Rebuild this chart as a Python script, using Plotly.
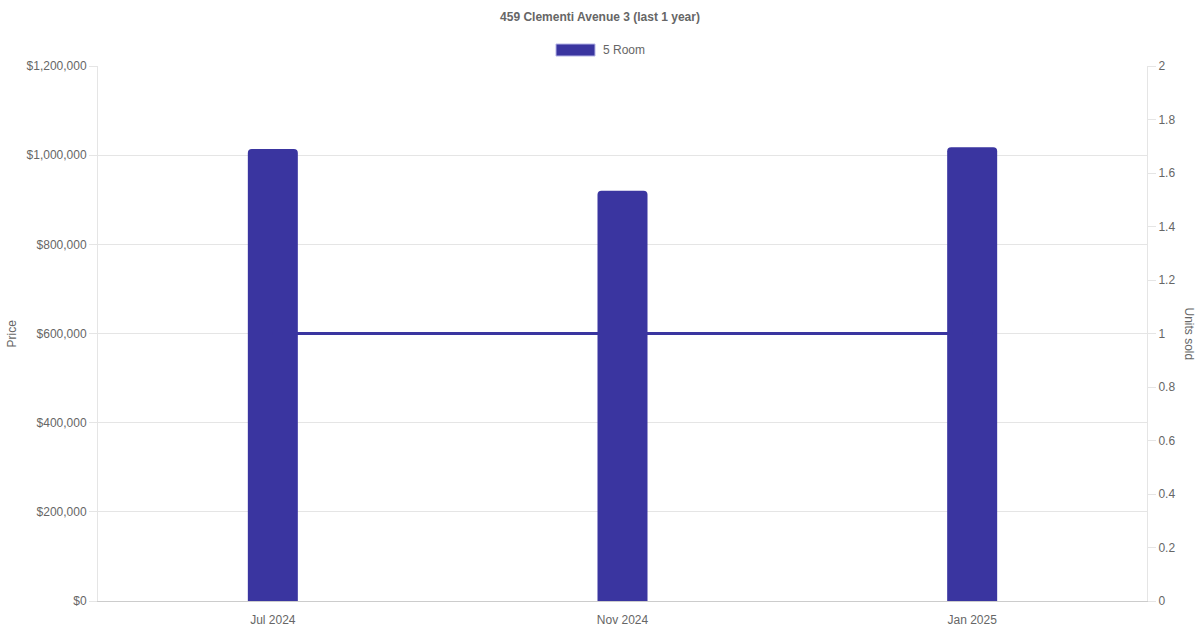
import plotly.graph_objects as go

months = ["Jul 2024", "Nov 2024", "Jan 2025"]
prices = [1014000, 920000, 1018000]
units_sold = [1, 1, 1]
series_name = "5 Room"

color = "#3a35a0"
font = "Liberation Sans, Arial, sans-serif"
grey = "#666666"

fig = go.Figure()
fig.add_trace(go.Bar(x=months, y=prices, name=series_name, marker=dict(color=color, line=dict(width=0)),
                     yaxis="y", showlegend=False))
fig.add_trace(go.Scatter(x=months, y=units_sold, mode="lines", line=dict(color=color, width=3),
                         yaxis="y2", showlegend=False))

fig.update_layout(
    width=1200, height=630,
    margin=dict(l=98, r=53, t=66, b=29),
    paper_bgcolor="white", plot_bgcolor="white",
    font=dict(family=font, size=12, color=grey),
    title=dict(text="<b>459 Clementi Avenue 3 (last 1 year)</b>", x=0.5, xanchor="center",
               y=1 - 17 / 630, yanchor="middle", font=dict(size=12, color=grey, family=font)),
    bargap=0.857,
    barcornerradius=4,
    xaxis=dict(type="category", showgrid=False, showline=True, linecolor="#cccccc", linewidth=1,
               ticks="outside", ticklen=8, tickcolor="rgba(0,0,0,0)", automargin=False,
               tickfont=dict(size=12, color=grey), mirror=False, zeroline=False),
    yaxis=dict(range=[0, 1200000], dtick=200000, tickformat="$,.0f", showgrid=True, automargin=False,
               gridcolor="#e5e5e5", gridwidth=1, ticks="outside", ticklen=8, tickcolor="#e5e5e5",
               showline=True, linecolor="#e5e5e5", zeroline=False, tickfont=dict(size=12, color=grey)),
    yaxis2=dict(range=[0, 2], dtick=0.2, overlaying="y", side="right", showgrid=False, automargin=False,
                ticks="outside", ticklen=8, tickcolor="#e5e5e5", showline=True, linecolor="#e5e5e5",
                zeroline=False, tickfont=dict(size=12, color=grey)),
    shapes=[dict(type="rect", xref="paper", yref="paper",
                 x0=(556 - 98) / 1049, x1=(595 - 98) / 1049,
                 y0=(601 - 56) / 535, y1=(601 - 44) / 535,
                 fillcolor=color, line=dict(color="rgba(180,180,230,1)", width=1))],
    annotations=[
        dict(text=series_name, xref="paper", yref="paper", x=(601 - 98) / 1049, y=(601 - 50) / 535,
             xanchor="left", yanchor="middle", showarrow=False, font=dict(size=12, color=grey)),
        dict(text="Price", xref="paper", yref="paper", x=-(98 - 11) / 1049, y=0.5, textangle=-90,
             xanchor="center", yanchor="middle", showarrow=False, font=dict(size=12, color=grey)),
        dict(text="Units sold", xref="paper", yref="paper", x=1 + (1189 - 1147) / 1049, y=0.5,
             textangle=90, xanchor="center", yanchor="middle", showarrow=False,
             font=dict(size=12, color=grey)),
    ],
)

fig.write_html("out.html", config={"displayModeBar": False},
               post_script="document.body.style.margin='0';document.body.style.overflow='hidden';")
